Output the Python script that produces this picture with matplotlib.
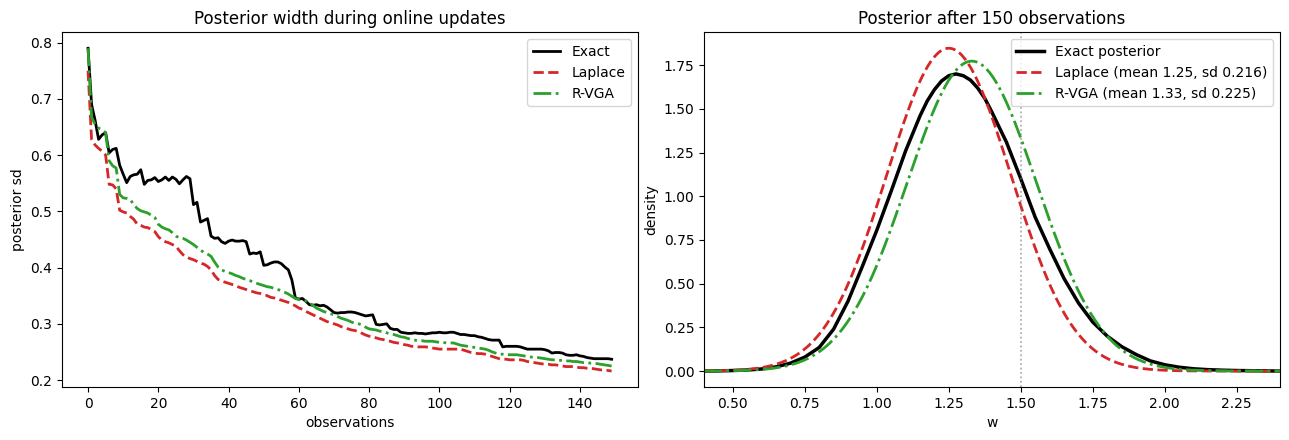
import numpy as np
import matplotlib
matplotlib.use("Agg")
import matplotlib.pyplot as plt

exact_sd = [
    0.790, 0.690, 0.662, 0.628, 0.636, 0.640, 0.604, 0.610, 0.612, 0.582,
    0.566, 0.551, 0.562, 0.565, 0.566, 0.574, 0.548, 0.555, 0.556, 0.560,
    0.553, 0.556, 0.561, 0.555, 0.561, 0.557, 0.549, 0.556, 0.562, 0.558,
    0.512, 0.516, 0.481, 0.484, 0.487, 0.456, 0.452, 0.453, 0.446, 0.443,
    0.447, 0.449, 0.447, 0.447, 0.448, 0.446, 0.424, 0.426, 0.425, 0.428,
    0.404, 0.405, 0.408, 0.410, 0.410, 0.407, 0.401, 0.396, 0.378, 0.346,
    0.344, 0.345, 0.340, 0.334, 0.333, 0.334, 0.332, 0.333, 0.330, 0.325,
    0.320, 0.319, 0.320, 0.320, 0.321, 0.321, 0.320, 0.318, 0.316, 0.314,
    0.315, 0.316, 0.299, 0.298, 0.299, 0.300, 0.292, 0.290, 0.290, 0.285,
    0.284, 0.283, 0.283, 0.284, 0.283, 0.283, 0.282, 0.283, 0.284, 0.284,
    0.285, 0.284, 0.284, 0.285, 0.285, 0.283, 0.281, 0.281, 0.280, 0.279,
    0.279, 0.277, 0.276, 0.274, 0.272, 0.271, 0.271, 0.271, 0.259, 0.260,
    0.260, 0.260, 0.260, 0.259, 0.257, 0.255, 0.255, 0.255, 0.255, 0.255,
    0.254, 0.252, 0.248, 0.249, 0.249, 0.248, 0.245, 0.244, 0.244, 0.245,
    0.243, 0.242, 0.240, 0.239, 0.238, 0.238, 0.238, 0.238, 0.238, 0.237,
]
laplace_sd = [
    0.750, 0.628, 0.618, 0.612, 0.607, 0.600, 0.548, 0.547, 0.540, 0.502,
    0.499, 0.497, 0.491, 0.486, 0.477, 0.475, 0.472, 0.471, 0.468, 0.464,
    0.455, 0.449, 0.446, 0.444, 0.441, 0.438, 0.430, 0.423, 0.419, 0.416,
    0.414, 0.411, 0.408, 0.406, 0.402, 0.396, 0.386, 0.379, 0.376, 0.374,
    0.372, 0.370, 0.368, 0.365, 0.363, 0.361, 0.359, 0.357, 0.355, 0.354,
    0.352, 0.350, 0.347, 0.346, 0.344, 0.342, 0.340, 0.338, 0.335, 0.332,
    0.328, 0.326, 0.322, 0.319, 0.316, 0.313, 0.310, 0.307, 0.304, 0.302,
    0.300, 0.298, 0.295, 0.293, 0.291, 0.289, 0.288, 0.286, 0.283, 0.280,
    0.278, 0.277, 0.275, 0.273, 0.272, 0.270, 0.269, 0.267, 0.266, 0.265,
    0.263, 0.262, 0.260, 0.260, 0.259, 0.259, 0.259, 0.258, 0.257, 0.256,
    0.255, 0.255, 0.255, 0.255, 0.255, 0.255, 0.255, 0.253, 0.251, 0.249,
    0.248, 0.247, 0.247, 0.246, 0.244, 0.242, 0.240, 0.238, 0.237, 0.237,
    0.236, 0.236, 0.236, 0.236, 0.235, 0.233, 0.232, 0.231, 0.230, 0.229,
    0.228, 0.228, 0.227, 0.227, 0.226, 0.225, 0.224, 0.224, 0.224, 0.223,
    0.222, 0.222, 0.221, 0.221, 0.220, 0.219, 0.218, 0.218, 0.217, 0.216,
]
rvga_sd = [
    0.790, 0.667, 0.655, 0.648, 0.645, 0.640, 0.590, 0.581, 0.577, 0.530,
    0.524, 0.523, 0.521, 0.512, 0.505, 0.501, 0.499, 0.497, 0.493, 0.489,
    0.477, 0.472, 0.469, 0.467, 0.462, 0.456, 0.453, 0.452, 0.449, 0.445,
    0.441, 0.436, 0.431, 0.427, 0.424, 0.420, 0.410, 0.401, 0.396, 0.393,
    0.391, 0.389, 0.386, 0.384, 0.381, 0.379, 0.377, 0.374, 0.372, 0.370,
    0.368, 0.366, 0.365, 0.363, 0.361, 0.359, 0.356, 0.353, 0.349, 0.345,
    0.343, 0.342, 0.341, 0.337, 0.333, 0.328, 0.325, 0.322, 0.320, 0.318,
    0.316, 0.313, 0.310, 0.308, 0.306, 0.303, 0.301, 0.300, 0.298, 0.294,
    0.291, 0.290, 0.289, 0.287, 0.286, 0.284, 0.282, 0.281, 0.279, 0.277,
    0.276, 0.274, 0.272, 0.271, 0.270, 0.270, 0.269, 0.269, 0.269, 0.268,
    0.267, 0.267, 0.266, 0.266, 0.266, 0.264, 0.262, 0.261, 0.260, 0.259,
    0.258, 0.257, 0.256, 0.255, 0.253, 0.250, 0.248, 0.246, 0.246, 0.245,
    0.245, 0.245, 0.245, 0.244, 0.243, 0.242, 0.241, 0.240, 0.240, 0.239,
    0.238, 0.237, 0.236, 0.236, 0.235, 0.235, 0.234, 0.234, 0.233, 0.233,
    0.232, 0.231, 0.231, 0.230, 0.230, 0.229, 0.228, 0.227, 0.226, 0.225,
]

# exact posterior density after 150 observations
w_grid = [
    0.40, 0.45, 0.50, 0.55, 0.60, 0.65, 0.70, 0.75, 0.80, 0.85,
    0.90, 0.95, 1.00, 1.05, 1.10, 1.15, 1.175, 1.20, 1.225, 1.25,
    1.275, 1.30, 1.325, 1.35, 1.375, 1.40, 1.45, 1.50, 1.55, 1.60,
    1.65, 1.70, 1.75, 1.80, 1.85, 1.90, 1.95, 2.00, 2.05, 2.10,
    2.15, 2.20, 2.25, 2.30, 2.35, 2.40,
]
exact_density = [
    0.000, 0.001, 0.003, 0.006, 0.012, 0.024, 0.045, 0.080, 0.135, 0.240,
    0.400, 0.600, 0.806, 1.030, 1.260, 1.460, 1.545, 1.610, 1.660, 1.690,
    1.700, 1.690, 1.665, 1.620, 1.560, 1.480, 1.310, 1.100, 0.880, 0.700,
    0.530, 0.390, 0.280, 0.200, 0.140, 0.095, 0.058, 0.036, 0.022, 0.013,
    0.008, 0.005, 0.003, 0.002, 0.001, 0.000,
]

# Gaussian approximations, parameters as given in the legend
laplace_mean, laplace_sdev = 1.25, 0.216
rvga_mean, rvga_sdev = 1.33, 0.225
true_w = 1.5


def gauss_pdf(x, mu, sd):
    return np.exp(-0.5 * ((x - mu) / sd) ** 2) / (sd * np.sqrt(2 * np.pi))


fig, (ax1, ax2) = plt.subplots(1, 2, figsize=(12.89, 4.4), dpi=100)
plt.subplots_adjust(left=0.048, right=0.993, bottom=0.12, top=0.927, wspace=0.115)

obs = np.arange(len(exact_sd))
ax1.plot(obs, exact_sd, color="black", lw=2, label="Exact")
ax1.plot(obs, laplace_sd, color="#d62728", lw=2, ls="--", label="Laplace")
ax1.plot(obs, rvga_sd, color="#2ca02c", lw=2, ls="-.", label="R-VGA")
ax1.set_title("Posterior width during online updates")
ax1.set_xlabel("observations")
ax1.set_ylabel("posterior sd")
ax1.legend(loc="upper right")

xs = np.linspace(0.4, 2.4, 400)
ax2.plot(w_grid, exact_density, color="black", lw=2.5, label="Exact posterior")
ax2.plot(xs, gauss_pdf(xs, laplace_mean, laplace_sdev), color="#d62728", lw=2, ls="--",
         label="Laplace (mean %.2f, sd %.3f)" % (laplace_mean, laplace_sdev))
ax2.plot(xs, gauss_pdf(xs, rvga_mean, rvga_sdev), color="#2ca02c", lw=2, ls="-.",
         label="R-VGA (mean %.2f, sd %.3f)" % (rvga_mean, rvga_sdev))
ax2.axvline(true_w, color="gray", ls=":", lw=1.2, alpha=0.7)
ax2.set_xlim(0.4, 2.4)
ax2.set_title("Posterior after 150 observations")
ax2.set_xlabel("w")
ax2.set_ylabel("density")
ax2.legend(loc="upper right")

fig.savefig("out.png", dpi=100)
